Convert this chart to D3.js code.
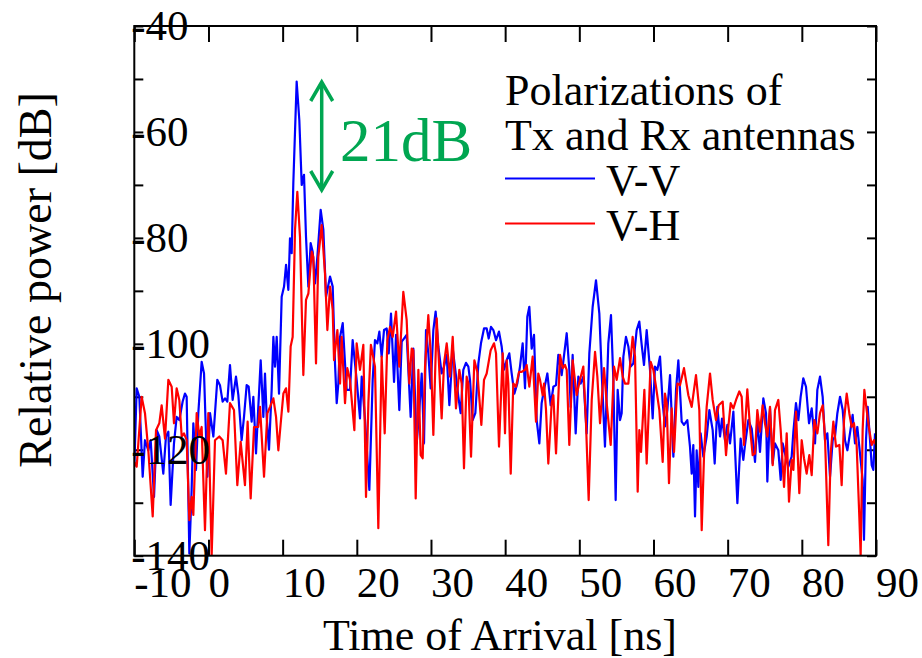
<!DOCTYPE html>
<html>
<head>
<meta charset="utf-8">
<script src="https://cdn.jsdelivr.net/npm/d3@7/dist/d3.min.js"></script>
<style>
  body { margin: 0; background: #fff; }
  text { font-family: "Liberation Serif", "Times New Roman", serif; fill: #000; }
</style>
</head>
<body>
<svg id="chart" width="922" height="658"></svg>
<script>
// power delay profiles, [time ns, relative power dB]
const vvSamples = [
  [-10.0,-123.2],[-9.68,-108.4],[-9.32,-110.0],[-8.87,-125.1],[-8.56,-118.2],[-8.11,-120.1],[-7.79,-118.2],
  [-7.34,-128.9],[-6.98,-116.3],[-6.63,-117.5],[-6.09,-124.5],[-5.73,-117.5],[-5.41,-116.6],[-5.10,-130.4],
  [-4.65,-118.8],[-4.29,-113.8],[-3.93,-114.4],[-3.48,-110.9],[-3.17,-109.4],[-2.94,-110.0],[-2.58,-139.6],
  [-2.27,-127.6],[-2.04,-115.0],[-1.68,-123.8],[-1.37,-113.1],[-0.92,-103.4],[-0.60,-105.6],[-0.15,-125.1],
  [0.21,-113.1],[0.66,-117.5],[1.19,-106.8],[1.55,-107.8],[1.91,-110.9],[2.23,-110.3],[2.54,-110.9],
  [2.90,-104.0],[3.26,-110.6],[3.71,-106.2],[4.03,-109.7],[4.47,-118.2],[4.79,-113.8],[5.15,-107.8],
  [5.42,-108.1],[5.82,-114.7],[6.05,-110.0],[6.41,-120.7],[6.72,-111.9],[7.04,-103.1],[7.40,-113.8],
  [7.62,-105.6],[7.85,-113.8],[8.16,-120.0],[8.52,-108.7],[8.75,-98.7],[8.97,-104.3],[9.20,-98.7],
  [9.51,-109.4],[9.87,-91.1],[10.19,-89.2],[10.46,-85.1],[10.77,-89.8],[10.99,-80.1],[11.22,-82.9],
  [11.44,-69.7],[11.89,-50.5],[12.25,-57.8],[12.57,-70.0],[12.88,-68.1],[13.15,-79.8],[13.47,-89.2],
  [13.78,-81.0],[14.05,-82.6],[14.37,-88.6],[14.68,-83.6],[15.13,-74.7],[15.49,-78.5],[15.85,-91.1],
  [16.39,-87.3],[16.75,-89.2],[17.06,-103.7],[17.29,-111.2],[17.51,-107.5],[17.74,-98.7],[18.10,-96.1],
  [18.41,-103.7],[18.63,-108.7],[19.08,-108.7],[19.44,-99.3],[19.98,-106.8],[20.43,-114.1],[20.66,-106.2],
  [21.11,-114.4],[21.69,-127.6],[22.14,-106.8],[22.45,-99.3],[22.77,-99.9],[23.04,-97.7],[23.35,-102.4],
  [23.67,-97.4],[24.03,-97.1],[24.30,-101.8],[24.61,-94.3],[25.02,-107.2],[25.29,-98.3],[25.73,-112.5],
  [26.05,-99.6],[26.36,-99.0],[26.72,-98.3],[27.26,-113.8],[27.62,-100.9],[28.07,-118.8],[28.43,-112.5],
  [28.75,-105.6],[29.06,-118.8],[29.33,-97.4],[29.64,-101.8],[29.96,-108.4],[30.32,-97.4],[30.63,-93.9],
  [30.99,-100.5],[31.44,-105.6],[31.76,-104.3],[32.12,-102.1],[32.48,-111.6],[32.93,-100.9],[33.28,-104.9],
  [33.69,-110.0],[34.00,-113.1],[34.36,-104.9],[34.72,-103.6],[35.04,-104.3],[35.26,-106.8],[35.62,-114.4],
  [35.98,-113.1],[36.39,-103.7],[36.74,-99.9],[37.15,-97.1],[37.51,-97.1],[37.78,-99.0],[38.09,-96.8],
  [38.41,-97.4],[38.77,-99.3],[39.17,-97.7],[39.53,-100.5],[39.85,-104.9],[40.21,-103.1],[40.56,-101.8],
  [40.88,-105.6],[41.24,-109.4],[41.64,-107.5],[42.00,-104.3],[42.36,-99.9],[42.68,-108.4],[42.99,-94.9],
  [43.26,-93.0],[43.58,-100.9],[43.89,-98.3],[44.25,-114.4],[44.61,-118.8],[44.92,-111.2],[45.24,-108.7],
  [45.69,-105.6],[46.14,-111.6],[46.50,-108.1],[46.86,-107.8],[47.17,-102.1],[47.62,-105.9],[48.30,-98.0],
  [48.65,-104.9],[48.83,-111.9],[49.10,-102.1],[49.51,-116.9],[49.87,-106.2],[50.18,-107.5],[50.54,-106.2],
  [50.99,-116.9],[51.35,-101.8],[51.80,-93.0],[52.25,-88.0],[52.70,-94.3],[53.01,-105.3],[53.46,-119.4],
  [53.91,-99.9],[54.27,-94.6],[54.59,-106.8],[54.90,-129.5],[55.17,-108.7],[55.49,-114.4],[55.71,-113.1],
  [55.94,-102.4],[56.29,-98.7],[56.61,-100.5],[56.92,-104.3],[57.28,-103.7],[57.73,-97.4],[58.09,-95.8],
  [58.41,-100.2],[58.72,-104.0],[59.08,-97.4],[59.53,-104.9],[59.89,-114.1],[60.20,-104.3],[60.52,-104.9],
  [60.88,-102.4],[61.24,-111.2],[61.55,-115.6],[61.87,-112.5],[62.23,-105.9],[62.68,-121.3],[63.04,-108.7],
  [63.35,-103.1],[63.80,-114.7],[64.11,-115.3],[64.56,-114.4],[64.92,-119.4],[65.15,-124.5],[65.37,-119.1],
  [65.60,-132.6],[65.82,-120.1],[66.05,-127.0],[66.36,-116.9],[66.72,-121.3],[67.17,-117.5],[67.53,-112.5],
  [67.98,-116.3],[68.25,-122.6],[68.61,-111.9],[68.97,-117.5],[69.24,-114.1],[69.64,-118.2],[69.96,-115.3],
  [70.32,-118.8],[70.77,-112.8],[71.31,-130.1],[71.75,-117.9],[72.11,-121.9],[72.34,-119.1],[72.79,-114.4],
  [73.24,-116.0],[73.69,-122.3],[74.00,-114.4],[74.36,-120.4],[74.81,-110.3],[75.17,-113.1],[75.35,-126.0],
  [75.71,-112.2],[76.07,-122.6],[76.38,-118.8],[76.83,-120.1],[77.15,-125.7],[77.42,-118.8],[77.73,-120.7],
  [78.18,-123.2],[78.63,-121.3],[78.86,-116.6],[79.21,-111.2],[79.53,-114.4],[79.84,-110.0],[80.20,-106.5],
  [80.56,-108.1],[80.97,-115.0],[81.33,-112.2],[81.78,-118.8],[82.09,-108.7],[82.45,-106.2],[82.81,-110.0],
  [83.12,-118.2],[83.44,-116.9],[83.80,-125.1],[84.16,-118.2],[84.47,-117.5],[84.79,-113.1],[85.15,-110.0],
  [85.51,-112.5],[85.82,-118.2],[86.14,-120.1],[86.49,-116.9],[86.85,-113.4],[87.17,-118.8],[87.48,-115.7],
  [87.84,-120.7],[88.20,-125.7],[88.38,-137.0],[88.65,-118.2],[88.88,-111.9],[89.10,-116.3],[89.42,-122.9],
  [89.64,-123.8],[89.87,-116.9]
];

const vhSamples = [
  [-10.0,-122.3],[-9.68,-123.2],[-9.01,-110.0],[-8.56,-113.1],[-8.11,-120.1],[-7.52,-132.6],[-7.07,-116.3],
  [-6.63,-115.0],[-6.31,-111.6],[-5.86,-117.9],[-5.41,-106.8],[-4.96,-108.1],[-4.65,-115.0],[-4.29,-108.4],
  [-3.93,-110.6],[-3.61,-117.5],[-3.30,-116.9],[-2.94,-118.2],[-2.58,-133.3],[-2.27,-128.9],[-2.04,-132.3],
  [-1.59,-113.1],[-1.23,-117.5],[-0.92,-115.7],[-0.47,-135.2],[-0.02,-113.1],[0.43,-140.0],[0.88,-118.2],
  [1.46,-117.5],[1.91,-118.2],[2.36,-124.5],[2.90,-111.2],[3.44,-112.5],[3.89,-126.7],[4.34,-118.5],
  [4.92,-126.7],[5.28,-114.7],[5.69,-129.2],[6.14,-115.7],[6.72,-115.7],[6.95,-111.9],[7.49,-125.1],
  [7.94,-113.1],[8.30,-111.9],[8.75,-110.3],[9.11,-113.8],[9.42,-120.1],[9.74,-115.0],[10.10,-109.4],
  [10.46,-108.4],[10.77,-112.8],[11.08,-100.5],[11.35,-98.7],[11.67,-78.5],[11.98,-71.3],[12.34,-79.8],
  [12.79,-105.9],[13.15,-91.7],[13.47,-90.5],[13.92,-82.6],[14.14,-83.6],[14.50,-103.7],[14.81,-83.6],
  [15.26,-77.6],[15.71,-86.7],[16.03,-97.4],[16.39,-89.2],[16.75,-93.6],[16.93,-103.1],[17.38,-97.4],
  [17.74,-107.5],[17.96,-98.7],[18.41,-111.2],[18.72,-104.6],[19.08,-106.8],[19.67,-116.3],[19.98,-99.9],
  [20.43,-104.9],[20.88,-100.2],[21.24,-128.9],[21.56,-111.2],[21.90,-100.2],[22.45,-104.3],[22.90,-134.8],
  [23.35,-102.4],[23.76,-116.9],[24.12,-99.3],[24.48,-96.8],[24.84,-98.7],[25.29,-93.9],[25.73,-104.3],
  [26.27,-90.2],[26.72,-95.5],[27.08,-107.5],[27.40,-100.9],[27.62,-101.2],[27.94,-129.2],[28.30,-104.9],
  [28.61,-121.0],[28.88,-121.6],[29.20,-104.3],[29.64,-94.6],[30.00,-102.7],[30.32,-117.2],[30.77,-95.2],
  [31.08,-103.7],[31.44,-114.1],[31.76,-103.7],[32.12,-99.9],[32.57,-106.2],[32.93,-98.7],[33.37,-112.2],
  [33.82,-104.9],[34.14,-107.5],[34.45,-123.5],[34.81,-106.2],[35.04,-107.5],[35.40,-121.3],[35.85,-103.1],
  [36.25,-105.3],[36.79,-115.3],[37.15,-106.8],[37.51,-105.6],[38.05,-101.2],[38.50,-99.9],[38.77,-101.8],
  [39.17,-119.4],[39.67,-101.8],[39.98,-116.9],[40.21,-103.1],[40.43,-107.5],[40.75,-124.5],[41.10,-107.5],
  [41.46,-108.1],[41.87,-105.3],[42.23,-105.3],[42.68,-104.9],[42.90,-104.0],[43.26,-108.1],[43.71,-102.4],
  [44.16,-114.7],[44.47,-105.6],[44.70,-106.8],[45.06,-109.7],[45.24,-107.5],[45.51,-112.5],[45.82,-122.6],
  [46.27,-111.2],[46.50,-109.7],[46.86,-120.7],[47.40,-102.1],[47.76,-104.6],[48.07,-104.0],[48.30,-104.9],
  [48.65,-119.1],[49.10,-103.1],[49.64,-109.7],[50.09,-106.8],[50.54,-104.3],[50.90,-115.0],[51.26,-129.5],
  [51.67,-110.6],[52.12,-101.5],[52.43,-106.2],[52.79,-115.0],[53.33,-104.6],[53.69,-111.2],[54.23,-119.1],
  [54.68,-104.3],[55.04,-106.8],[55.49,-102.7],[55.85,-106.2],[56.16,-107.5],[56.61,-107.5],[57.19,-98.7],
  [57.51,-102.4],[57.87,-127.9],[58.09,-116.3],[58.32,-120.4],[58.77,-108.7],[59.08,-122.6],[59.62,-103.4],
  [59.98,-104.9],[60.34,-108.1],[60.79,-112.5],[61.24,-122.3],[61.55,-109.4],[61.78,-111.2],[62.09,-126.3],
  [62.45,-112.2],[62.77,-120.4],[63.22,-107.5],[63.57,-107.8],[64.11,-104.6],[64.70,-109.7],[65.15,-111.9],
  [65.73,-105.9],[66.18,-112.5],[66.50,-135.2],[66.81,-121.3],[67.17,-111.9],[67.62,-105.6],[67.98,-110.6],
  [68.43,-114.4],[68.79,-111.6],[69.33,-110.9],[69.78,-121.0],[70.09,-115.7],[70.41,-111.2],[70.77,-112.2],
  [71.13,-110.6],[71.57,-109.0],[71.89,-110.0],[72.20,-119.1],[72.65,-108.6],[73.01,-115.7],[73.37,-121.0],
  [73.69,-120.7],[74.00,-112.5],[74.36,-116.6],[74.72,-111.6],[75.03,-115.0],[75.35,-117.5],[75.71,-111.9],
  [76.07,-122.9],[76.38,-112.5],[76.83,-110.6],[77.15,-116.3],[77.60,-127.0],[77.96,-116.9],[78.27,-129.8],
  [78.63,-121.9],[78.86,-123.8],[79.21,-112.8],[79.66,-128.2],[79.98,-118.2],[80.29,-121.6],[80.65,-124.5],
  [81.01,-121.0],[81.33,-124.8],[81.69,-114.4],[82.09,-116.9],[82.45,-113.1],[82.81,-111.6],[83.12,-117.5],
  [83.57,-138.0],[83.89,-120.7],[84.25,-114.7],[84.61,-119.4],[85.06,-119.1],[85.37,-126.7],[85.69,-114.4],
  [86.05,-109.4],[86.40,-113.1],[86.72,-115.7],[87.03,-115.0],[87.39,-119.1],[87.75,-132.6],[87.93,-140.0],
  [88.20,-116.3],[88.43,-108.7],[88.74,-112.5],[89.10,-116.3],[89.42,-119.1],[89.73,-118.2],[90.00,-119.1]
];

const seriesNames = ["V-V", "V-H"];
const seriesColors = ["#0000ff", "#ff0000"];
const legendTitle = ["Polarizations of", "Tx and Rx antennas"];
const gapLabel = "21dB";

const svg = d3.select("#chart");
const plotL = 134.3, plotR = 876, plotT = 26, plotB = 555.7;

const x = d3.scaleLinear().domain([-10, 90]).range([plotL, plotR]);
const y = d3.scaleLinear().domain([-140, -40]).range([plotB, plotT]);

svg.append("clipPath").attr("id", "plotClip")
    .append("rect").attr("x", plotL).attr("y", plotT)
    .attr("width", plotR - plotL).attr("height", plotB - plotT);

// inward ticks on all four sides
const styleAxis = (g) => {
    g.select(".domain").remove();
    g.selectAll(".tick line").attr("stroke", "#000").attr("stroke-width", 2);
};
svg.append("g").attr("transform", `translate(0,${plotB})`)
    .call(d3.axisBottom(x).ticks(10).tickSize(-16).tickFormat("")).call(styleAxis);
svg.append("g").attr("transform", `translate(0,${plotT})`)
    .call(d3.axisTop(x).ticks(10).tickSize(-16).tickFormat("")).call(styleAxis);
svg.append("g").attr("transform", `translate(${plotL},0)`)
    .call(d3.axisLeft(y).ticks(10).tickSize(-9).tickFormat("")).call(styleAxis);
svg.append("g").attr("transform", `translate(${plotR},0)`)
    .call(d3.axisRight(y).ticks(10).tickSize(-9).tickFormat("")).call(styleAxis);

// data lines
const line = d3.line().x(d => x(d[0])).y(d => y(d[1]));
const plot = svg.append("g").attr("clip-path", "url(#plotClip)");
[vvSamples, vhSamples].forEach((s, i) => {
    plot.append("path").datum(s)
        .attr("fill", "none")
        .attr("stroke", seriesColors[i])
        .attr("stroke-width", 2.2)
        .attr("stroke-linejoin", "round")
        .attr("d", line);
});

// frame
svg.append("rect").attr("x", plotL).attr("y", plotT)
    .attr("width", plotR - plotL).attr("height", plotB - plotT)
    .attr("fill", "none").attr("stroke", "#000").attr("stroke-width", 2);

// tick labels (sit just right of / below the tick, like the original)
svg.append("g").selectAll("text").data(x.ticks(10)).join("text")
    .attr("x", d => x(d)).attr("y", 597)
    .attr("font-size", 43)
    .text(d => String(d));

svg.append("g").selectAll("text").data(y.ticks(5)).join("text")
    .attr("x", plotL - 3).attr("y", d => y(d) + 14)
    .attr("font-size", 43)
    .text(d => String(d));

// axis titles
svg.append("text")
    .attr("x", 500).attr("y", 650)
    .attr("text-anchor", "middle").attr("font-size", 44)
    .text("Time of Arrival [ns]");

svg.append("text")
    .attr("transform", "translate(51,280) rotate(-90)")
    .attr("text-anchor", "middle").attr("font-size", 46)
    .text("Relative power [dB]");

// legend
svg.append("g").selectAll("text").data(legendTitle).join("text")
    .attr("x", 505).attr("y", (d, i) => 105 + i * 45)
    .attr("font-size", 44)
    .text(d => d);

const leg = svg.append("g").selectAll("g").data(seriesNames).join("g")
    .attr("transform", (d, i) => `translate(505,${178.5 + i * 45})`);
leg.append("line").attr("x1", 0).attr("x2", 90).attr("y1", 0).attr("y2", 0)
    .attr("stroke", (d, i) => seriesColors[i]).attr("stroke-width", 2);
leg.append("text").attr("x", 101).attr("y", 16.5)
    .attr("font-size", 44)
    .text(d => d);

// 21 dB annotation
const green = "#00a651";
const ax = 321.7, ayTop = 82, ayBot = 190;
const ann = svg.append("g").attr("stroke", green).attr("stroke-width", 3.5).attr("fill", "none");
ann.append("line").attr("x1", ax).attr("x2", ax).attr("y1", ayTop + 2).attr("y2", ayBot - 2);
ann.append("polyline").attr("points", `${ax - 11},${ayTop + 19} ${ax},${ayTop} ${ax + 11},${ayTop + 19}`);
ann.append("polyline").attr("points", `${ax - 11},${ayBot - 19} ${ax},${ayBot} ${ax + 11},${ayBot - 19}`);
svg.append("text")
    .attr("x", 340).attr("y", 161)
    .attr("font-size", 61)
    .style("fill", green)
    .text(gapLabel);
</script>
</body>
</html>
